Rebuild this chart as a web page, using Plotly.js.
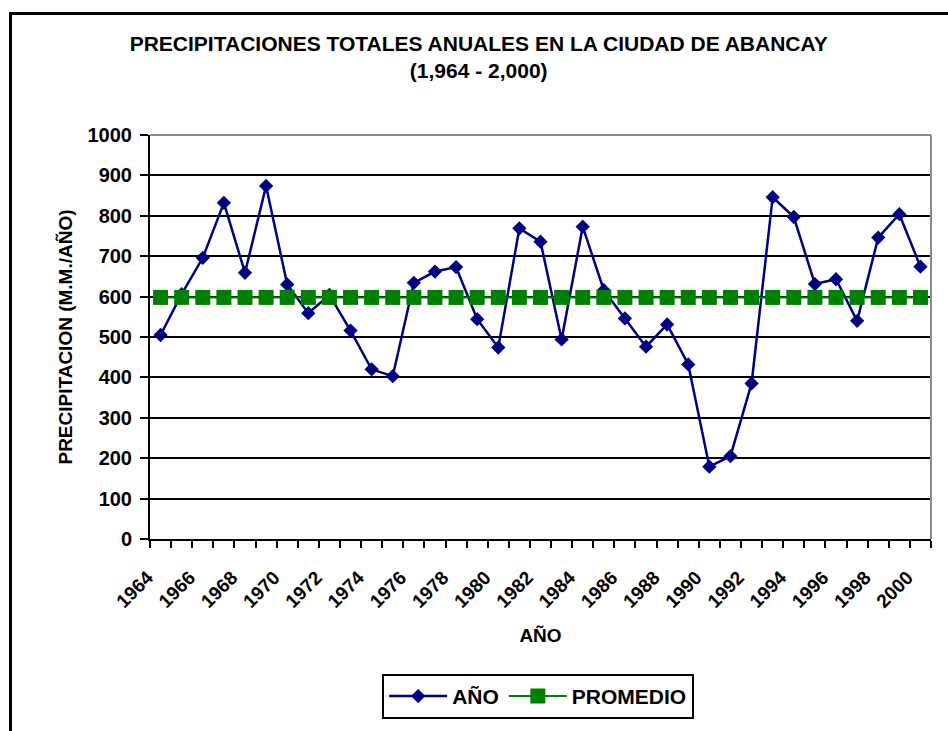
<!DOCTYPE html>
<html>
<head>
<meta charset="utf-8">
<script src="https://cdn.plot.ly/plotly-3.0.1.min.js"></script>
<style>
  html, body { margin: 0; padding: 0; background: #fff; overflow: hidden; }
  #chart { width: 948px; height: 731px; position: absolute; left: 0; top: 0; }
  #frame { position: absolute; left: 9px; top: 12px; width: 1200px; height: 1200px;
           border-left: 3px solid #000; border-top: 3px solid #000; pointer-events: none; }
</style>
</head>
<body>
<div id="chart"></div>
<div id="frame"></div>
<script>
const years = [1964,1965,1966,1967,1968,1969,1970,1971,1972,1973,1974,1975,1976,1977,1978,1979,1980,1981,1982,1983,1984,1985,1986,1987,1988,1989,1990,1991,1992,1993,1994,1995,1996,1997,1998,1999,2000];
const precipitacion = [505,606,696,832,659,874,630,559,604,516,420,403,634,662,673,544,474,769,736,494,773,616,546,476,531,432,179,205,385,846,797,631,643,540,746,804,674];
const promedio = [598,598,598,598,598,598,598,598,598,598,598,598,598,598,598,598,598,598,598,598,598,598,598,598,598,598,598,598,598,598,598,598,598,598,598,598,598];
const tickYears = [1964,1966,1968,1970,1972,1974,1976,1978,1980,1982,1984,1986,1988,1990,1992,1994,1996,1998,2000];
const tickLabels = ["1964","1966","1968","1970","1972","1974","1976","1978","1980","1982","1984","1986","1988","1990","1992","1994","1996","1998","2000"];
const yTicks = [0,100,200,300,400,500,600,700,800,900,1000];

const FONT = "'Liberation Sans', Arial, sans-serif";

const traces = [
  {
    x: years, y: precipitacion, name: "AÑO", type: "scatter", mode: "lines+markers",
    line: {color: "#000080", width: 2.5},
    marker: {symbol: "diamond", size: 11, color: "#000080"}
  },
  {
    x: years, y: promedio, name: "PROMEDIO", type: "scatter", mode: "lines+markers",
    line: {color: "#008000", width: 2},
    marker: {symbol: "square", size: 15, color: "#008000"}
  }
];

const layout = {
  width: 948, height: 731,
  paper_bgcolor: "#fff", plot_bgcolor: "#fff",
  margin: {l: 150, r: 17, t: 135, b: 192},
  font: {family: FONT, color: "#000", size: 18, weight: "bold"},
  title: {
    text: "<b>PRECIPITACIONES TOTALES ANUALES EN LA CIUDAD DE ABANCAY<br>(1,964 - 2,000)</b>",
    font: {family: FONT, size: 21, color: "#000"},
    x: 0.505, xanchor: "center", y: 0.93, yanchor: "top"
  },
  xaxis: {
    type: "linear", range: [1963.5, 2000.5],
    tickvals: tickYears, ticktext: tickLabels, tickangle: -45,
    ticks: "", showgrid: false, zeroline: false,
    showline: true, linecolor: "#000", linewidth: 2,
    tickfont: {family: FONT, size: 19, color: "#000", weight: "bold"},
    ticklabelshift: -13, ticklabelstandoff: 18,
    minor: {tick0: 1963.5, dtick: 1, ticks: "outside", ticklen: 7, tickwidth: 2, tickcolor: "#000", showgrid: false},
    title: {text: "<b>AÑO</b>", font: {family: FONT, size: 19, color: "#000"}, standoff: 18}
  },
  yaxis: {
    range: [0, 1000], tickvals: yTicks, ticks: "outside", ticklen: 8, tickwidth: 2, tickcolor: "#000",
    showgrid: true, gridcolor: "#000", gridwidth: 2, zeroline: false,
    showline: true, linecolor: "#000", linewidth: 2,
    tickfont: {family: FONT, size: 20, color: "#000", weight: "bold"},
    ticklabelstandoff: 4,
    title: {text: "<b>PRECIPITACION (M.M./AÑO)</b>", font: {family: FONT, size: 19, color: "#000"}, standoff: 10}
  },
  shapes: [
    {type: "line", xref: "paper", yref: "paper", x0: 0, x1: 1, y0: 1, y1: 1, line: {color: "#8c8c8c", width: 2}, layer: "above"},
    {type: "line", xref: "paper", yref: "paper", x0: 1, x1: 1, y0: 0, y1: 1, line: {color: "#8c8c8c", width: 2}, layer: "above"}
  ],
  showlegend: true,
  legend: {
    orientation: "h", x: 0.497, xanchor: "center", y: -0.334, yanchor: "top",
    bordercolor: "#000", borderwidth: 2, bgcolor: "#fff",
    font: {family: FONT, size: 21, color: "#000", weight: "bold"},
    itemwidth: 58, traceorder: "normal"
  }
};

Plotly.newPlot("chart", traces, layout, {displayModeBar: false, staticPlot: true});
</script>
</body>
</html>
